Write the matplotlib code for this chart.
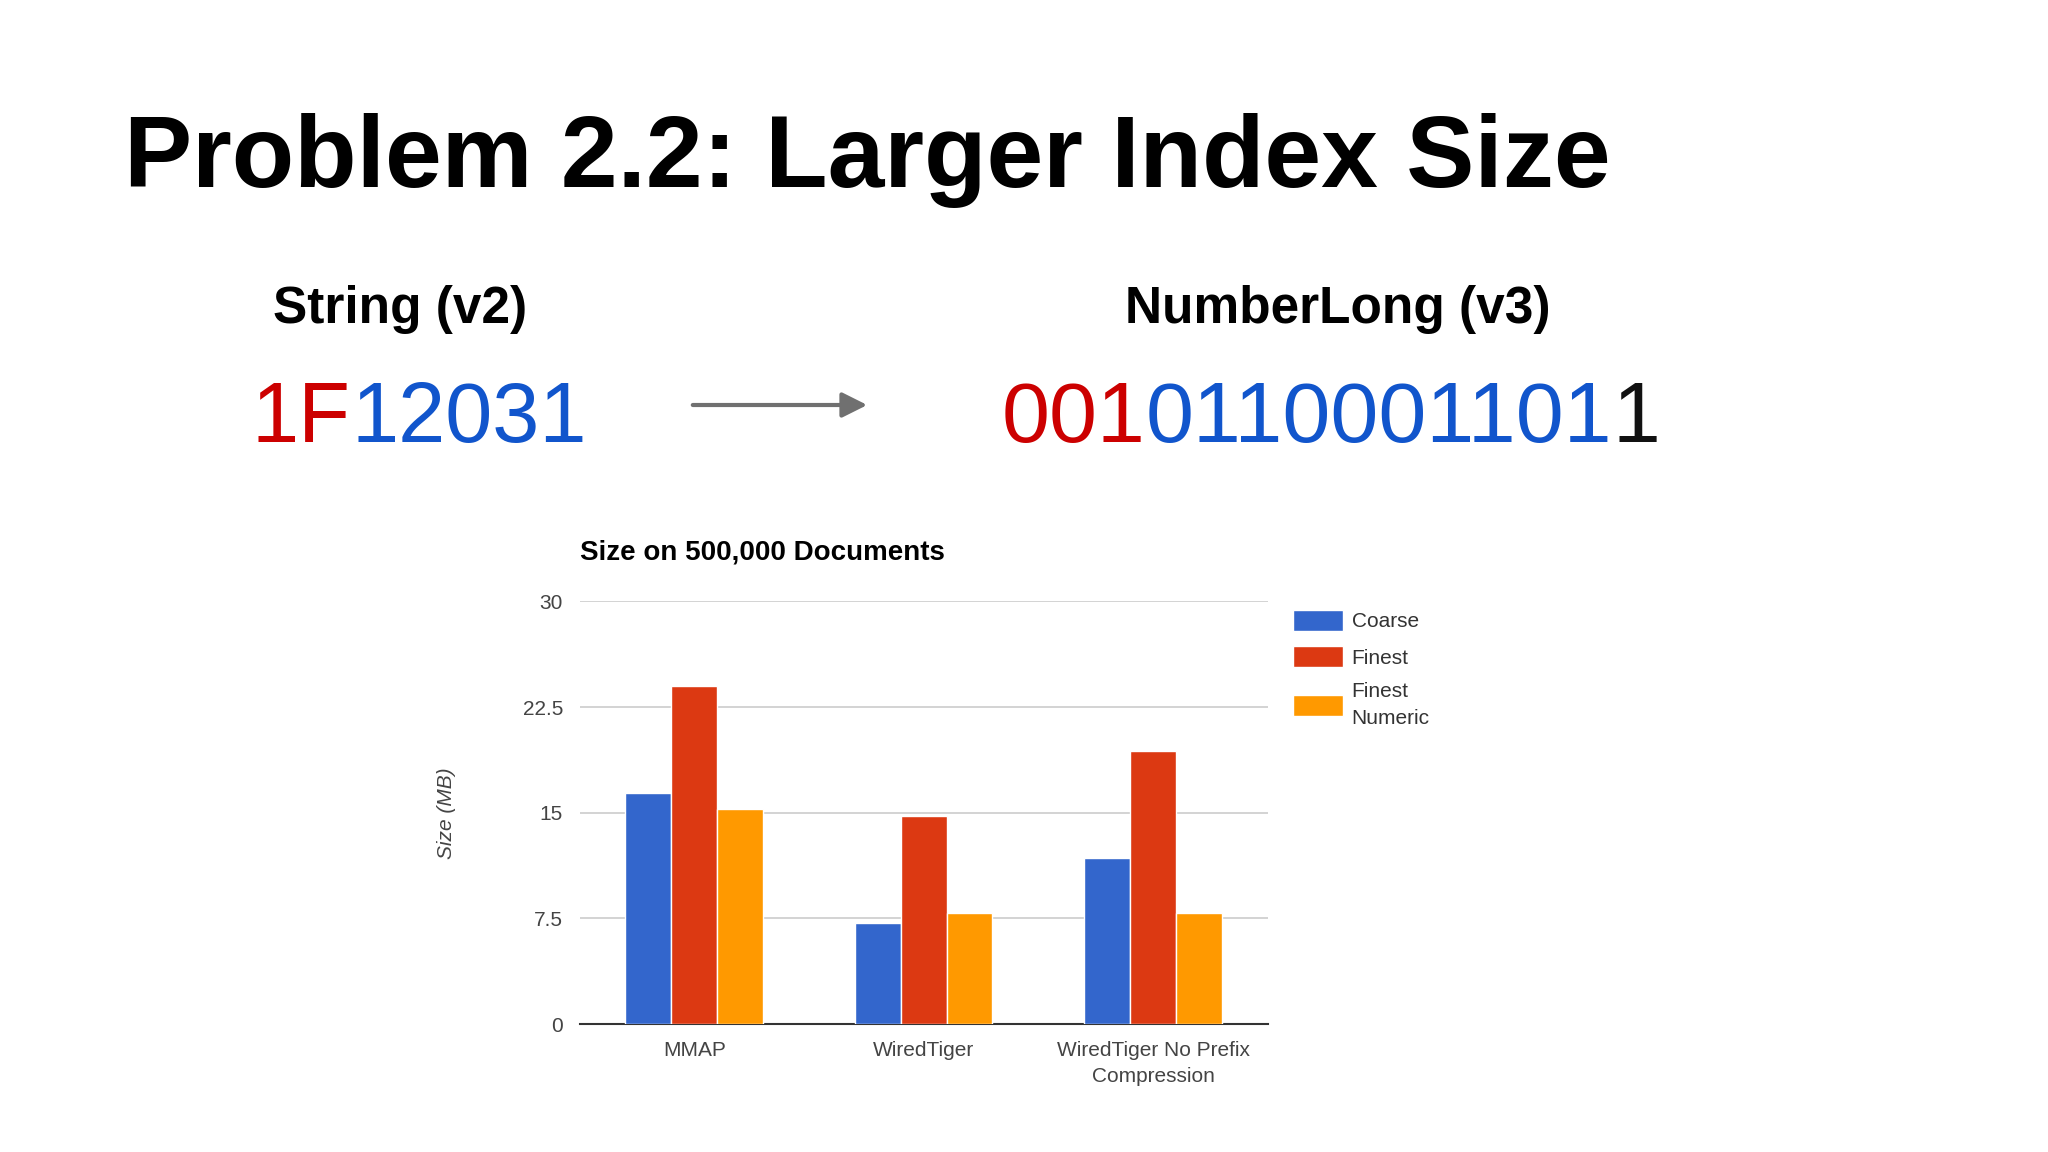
import matplotlib
matplotlib.use("Agg")
import matplotlib.pyplot as plt
import numpy as np

categories = ["MMAP", "WiredTiger", "WiredTiger No Prefix\nCompression"]
series_names = ["Coarse", "Finest", "Finest\nNumeric"]
coarse = [16.4, 7.2, 11.8]
finest = [24.0, 14.8, 19.4]
finest_numeric = [15.3, 7.85, 7.85]
yticks = [0, 7.5, 15, 22.5, 30]
ytick_labels = ["0", "7.5", "15", "22.5", "30"]
colors = ["#3366cc", "#dc3912", "#ff9900"]

plt.rcParams['font.family'] = ['Liberation Sans', 'DejaVu Sans']
fig = plt.figure(figsize=(20.48, 11.52), dpi=100)
W, H = 2048, 1152

fig.text(124 / W, 1 - 160 / H, "Problem 2.2: Larger Index Size", fontsize=73.5, fontweight='bold', ha='left', va='center')
fig.text(400 / W, 1 - 310 / H, "String (v2)", fontsize=37, fontweight='bold', ha='center', va='center')
fig.text(1338 / W, 1 - 310 / H, "NumberLong (v3)", fontsize=37, fontweight='bold', ha='center', va='center')

def colored(x, y, parts, size):
    fig.canvas.draw()
    r = fig.canvas.get_renderer()
    for s, c in parts:
        t = fig.text(x, y, s, color=c, fontsize=size, ha='left', va='center')
        bb = t.get_window_extent(renderer=r)
        x += bb.width / W

colored(252 / W, 1 - 420 / H, [("1F", "#cc0000"), ("12031", "#1155cc")], 61)
colored(1002 / W, 1 - 420 / H, [("001", "#cc0000"), ("0110001101", "#1155cc"), ("1", "#111111")], 62)

fig.add_artist(matplotlib.patches.FancyArrowPatch((690 / W, 1 - 405 / H), (870 / W, 1 - 405 / H),
               transform=fig.transFigure, arrowstyle='-|>', mutation_scale=38, color='#707070', lw=3))

ax = fig.add_axes([0.283, 0.111, 0.336, 0.367])
x = np.arange(len(categories))
w = 0.2
for i, (vals, name) in enumerate(zip([coarse, finest, finest_numeric], series_names)):
    ax.bar(x + (i - 1) * w, vals, w, color=colors[i], edgecolor='white', linewidth=1, label=name, zorder=3)
ax.set_ylim(0, 30)
ax.set_xlim(-0.5, 2.5)
ax.set_yticks(yticks)
ax.set_yticklabels(ytick_labels, fontsize=15, color='#444444')
ax.set_xticks(x)
ax.set_xticklabels(categories, fontsize=15, color='#444444', linespacing=1.5)
ax.grid(axis='y', color='#cccccc', lw=1.2, zorder=0)
for s in ['top', 'right', 'left']:
    ax.spines[s].set_visible(False)
ax.spines['bottom'].set_color('#333333')
ax.spines['bottom'].set_linewidth(1.5)
ax.tick_params(length=0, pad=12)
ax.set_ylabel("Size (MB)", fontsize=15, style='italic', color='#444444', labelpad=48)
ax.set_title("Size on 500,000 Documents", fontsize=20, fontweight='bold', loc='left', pad=30)
leg = ax.legend(loc='upper left', bbox_to_anchor=(1.01, 1.025), frameon=False, fontsize=15,
          handlelength=2.4, handleheight=1.2, labelspacing=0.7, handletextpad=0.4, labelcolor='#333333')
for t in leg.get_texts():
    t.set_linespacing(1.5)

fig.savefig("out.png", dpi=100)
